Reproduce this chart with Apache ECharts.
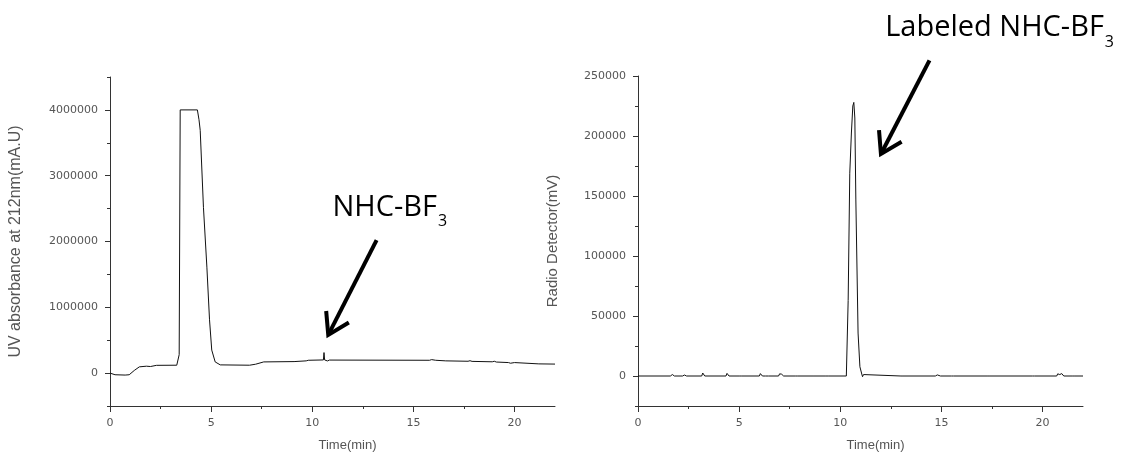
<!DOCTYPE html>
<html>
<head>
<meta charset="utf-8">
<script src="https://cdn.jsdelivr.net/npm/echarts@6/dist/echarts.min.js"></script>
<style>
  html, body { margin: 0; padding: 0; background: #fff; }
  #main { width: 1134px; height: 458px; }
</style>
</head>
<body>
<div id="main"></div>
<script>
// UV trace (left)
const uvTime  = [0, 0.25, 0.75, 0.95, 1.2, 1.45, 1.8, 2.0, 2.3, 3.3, 3.42, 3.47, 4.32, 4.4, 4.46, 4.62, 4.79, 4.92, 5.03, 5.2, 5.45,
  6.9, 7.2, 7.6, 9.1, 9.7, 9.8, 10.55, 10.58, 10.61, 10.65, 10.75, 10.85, 15.8, 15.9, 16.1, 16.6, 17.7, 17.8, 17.9,
  18.9, 19.0, 19.1, 19.7, 19.8, 20.0, 21.2, 22];
const uvValue = [0, -25000, -30000, -25000, 40000, 95000, 105000, 100000, 118000, 120000, 280000, 4000000, 4000000, 3850000, 3690000, 2520000, 1610000, 810000, 350000, 170000, 125000,
  120000, 135000, 170000, 175000, 186000, 195000, 200000, 312000, 200000, 190000, 185000, 198000, 195000, 205000, 195000, 186000, 180000, 188000, 178000,
  172000, 180000, 168000, 160000, 150000, 160000, 140000, 137000];

// radio trace (right)
const radioTime  = [0, 1.6, 1.7, 1.8, 2.2, 2.3, 2.4, 3.15, 3.2, 3.3, 4.35, 4.4, 4.5, 5.0, 5.05, 5.1, 6.0, 6.05, 6.15, 6.3, 6.35, 6.45,
  6.95, 7.0, 7.1, 7.2, 7.8, 7.85, 7.9, 8.7, 8.75, 8.85, 9.25, 9.3, 9.4, 10.3, 10.39, 10.47, 10.55, 10.62, 10.67, 10.72, 10.77, 10.88,
  10.97, 11.05, 11.1, 11.15, 11.2, 13.0, 13.05, 13.1, 14.7, 14.75, 14.8, 14.85, 14.95, 15.5, 15.55, 15.6, 17.3, 17.35, 17.4,
  19.5, 19.55, 19.6, 20.7, 20.75, 20.85, 20.95, 21.05, 21.5, 21.55, 21.6, 22];
const radioValue = [0, 0, 1200, 0, 0, 800, 0, 0, 2500, 0, 0, 2200, 0, 0, 800, 0, 0, 2000, 0, 0, 900, 0,
  0, 1800, 1500, 0, 0, 700, 0, 0, 900, 0, 0, 1000, 0, 0, 63000, 169000, 202500, 225000, 228000, 215000, 146700, 35800,
  7700, 2500, -600, 1200, 0, 0, 900, 0, 0, 1500, 900, 2000, 0, 0, 700, 0, 0, 800, 0,
  0, 700, 0, 0, 1800, 1200, 2000, 0, 0, 900, 0, 0];

// ticks
const timeTicks  = [0, 5, 10, 15, 20];
const timeMinor  = [2.5, 7.5, 12.5, 17.5];
const uvTicks    = [0, 1000000, 2000000, 3000000, 4000000];
const uvMinor    = [-500000, 500000, 1500000, 2500000, 3500000, 4500000];
const radioTicks = [0, 50000, 100000, 150000, 200000, 250000];
const radioMinor = [-25000, 25000, 75000, 125000, 175000, 225000];

// annotation anchors [time, value]
const uvArrow    = [[13.18, 2020000], [10.79, 580000]];
const uvLabelAt  = [11.0, 2740000];
const radioArrow = [[14.41, 263000], [12.01, 185000]];
const radioLabelAt = [12.22, 302000];

function pairs(xs, ys) {
  return xs.map(function (x, i) { return [x, ys[i]]; });
}

const axisColor = '#333';
const labelColor = '#555';
const tickFont = 'DejaVu Sans';
const plain = function (v) { return String(v); };

function xAxisPair(grid) {
  return [{
    type: 'value', gridIndex: grid, min: 0, max: 22, position: 'bottom',
    name: 'Time(min)', nameLocation: 'middle', nameGap: 33,
    nameTextStyle: { color: labelColor, fontSize: 13, fontFamily: 'Liberation Sans', padding: [0, 0, 0, 30] },
    axisLine: { onZero: false, lineStyle: { color: axisColor, width: 1 } },
    axisTick: { show: true, length: 6, customValues: timeTicks, lineStyle: { color: axisColor } },
    axisLabel: { customValues: timeTicks, formatter: plain, margin: 12, color: labelColor, fontSize: 11, fontFamily: tickFont },
    splitLine: { show: false }
  }, {
    type: 'value', gridIndex: grid, min: 0, max: 22, position: 'bottom',
    axisLine: { show: false, onZero: false },
    axisTick: { show: true, length: 3, customValues: timeMinor, lineStyle: { color: axisColor } },
    axisLabel: { show: false },
    splitLine: { show: false }
  }];
}

function yAxisPair(grid, min, max, ticks, minor, name, nameSize, gap) {
  return [{
    type: 'value', gridIndex: grid, min: min, max: max, position: 'left',
    name: name, nameLocation: 'middle', nameGap: gap,
    nameTextStyle: { color: labelColor, fontSize: nameSize, fontFamily: 'Liberation Sans' },
    axisLine: { show: true, onZero: false, lineStyle: { color: axisColor, width: 1 } },
    axisTick: { show: true, length: 5, customValues: ticks, lineStyle: { color: axisColor } },
    axisLabel: { customValues: ticks, formatter: plain, margin: 12, color: labelColor, fontSize: 11, fontFamily: tickFont },
    splitLine: { show: false }
  }, {
    type: 'value', gridIndex: grid, min: min, max: max, position: 'left',
    axisLine: { show: false, onZero: false },
    axisTick: { show: true, length: 3, customValues: minor, lineStyle: { color: axisColor } },
    axisLabel: { show: false },
    splitLine: { show: false }
  }];
}

const chart = echarts.init(document.getElementById('main'));

const option = {
  animation: false,
  backgroundColor: '#fff',
  grid: [
    { left: 110, right: 579, top: 77, bottom: 52 },
    { left: 638, right: 51, top: 76, bottom: 52 }
  ],
  xAxis: xAxisPair(0).concat(xAxisPair(1)),
  yAxis: yAxisPair(0, -500000, 4500000, uvTicks, uvMinor, 'UV absorbance at 212nm(mA.U)', 16, 86)
    .concat(yAxisPair(1, -25000, 250000, radioTicks, radioMinor, 'Radio Detector(mV)', 15, 78)),
  series: [{
    type: 'line', xAxisIndex: 0, yAxisIndex: 0,
    data: pairs(uvTime, uvValue),
    showSymbol: false, silent: true,
    lineStyle: { color: '#111', width: 1 }
  }, {
    type: 'line', xAxisIndex: 2, yAxisIndex: 2,
    data: pairs(radioTime, radioValue),
    showSymbol: false, silent: true,
    lineStyle: { color: '#111', width: 1 }
  }]
};
chart.setOption(option);

// arrows + labels, positioned from data coordinates
function arrow(grid, ends) {
  const tail = chart.convertToPixel({ gridIndex: grid }, ends[0]);
  const tip = chart.convertToPixel({ gridIndex: grid }, ends[1]);
  const dx = tail[0] - tip[0], dy = tail[1] - tip[1];
  const len = Math.sqrt(dx * dx + dy * dy);
  const ux = dx / len, uy = dy / len;
  const th = 32 * Math.PI / 180, L = 24;
  function rot(a) {
    return [tip[0] + L * (ux * Math.cos(a) - uy * Math.sin(a)), tip[1] + L * (ux * Math.sin(a) + uy * Math.cos(a))];
  }
  return [{
    type: 'line', silent: true,
    shape: { x1: tail[0], y1: tail[1], x2: tip[0] + ux * 2, y2: tip[1] + uy * 2 },
    style: { stroke: '#000', lineWidth: 4 }
  }, {
    type: 'polyline', silent: true,
    shape: { points: [rot(th), tip, rot(-th)] },
    style: { stroke: '#000', lineWidth: 4, fill: null, lineJoin: 'miter' }
  }];
}

function label(grid, at, main) {
  const p = chart.convertToPixel({ gridIndex: grid }, at);
  return {
    type: 'text', silent: true, x: p[0], y: p[1],
    style: {
      text: '{a|' + main + '}{s|3}',
      align: 'left', verticalAlign: 'top',
      rich: {
        a: { fontFamily: 'Open Sans', fontSize: 29, lineHeight: 29, verticalAlign: 'top', fill: '#000' },
        s: { fontFamily: 'Open Sans', fontSize: 16, lineHeight: 16, verticalAlign: 'top', padding: [21, 0, 0, 1], fill: '#000' }
      }
    }
  };
}

chart.setOption({
  graphic: arrow(0, uvArrow).concat(arrow(1, radioArrow)).concat([
    label(0, uvLabelAt, 'NHC-BF'),
    label(1, radioLabelAt, 'Labeled NHC-BF')
  ])
});
</script>
</body>
</html>
